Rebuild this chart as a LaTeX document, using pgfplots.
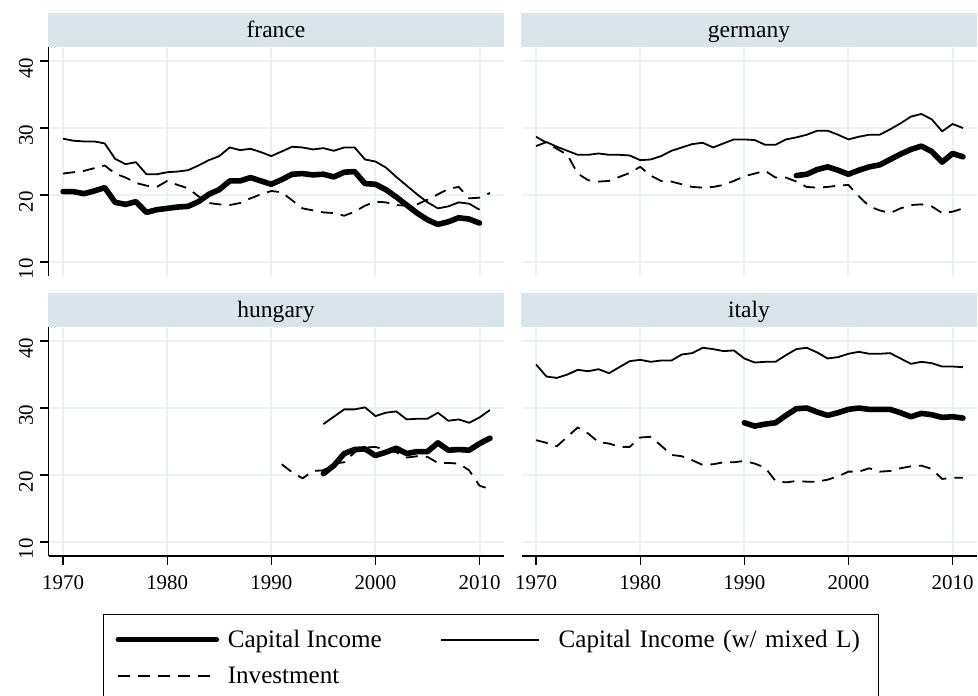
\documentclass[border=0pt]{standalone}
\usepackage{fontspec}
\setmainfont{Liberation Serif}
\usepackage{pgfplots}
\usepackage{pgfplotstable}
\pgfplotsset{compat=1.18}
\definecolor{gridc}{RGB}{234,242,243}
\definecolor{stripc}{RGB}{217,229,235}

\pgfplotstableread{
year ci cim inv
1970 20.5 28.4 23.2
1971 20.5 28.1 23.4
1972 20.2 28.0 23.6
1973 20.6 28.0 24.0
1974 21.1 27.7 24.4
1975 18.9 25.4 23.2
1976 18.6 24.6 22.6
1977 19.0 24.9 21.8
1978 17.4 23.1 21.4
1979 17.8 23.1 21.2
1980 18.0 23.4 22.1
1981 18.2 23.5 21.5
1982 18.3 23.7 21.0
1983 19.0 24.4 19.8
1984 20.1 25.2 18.8
1985 20.8 25.8 18.6
1986 22.1 27.1 18.5
1987 22.1 26.7 18.8
1988 22.6 26.9 19.5
1989 22.1 26.4 20.1
1990 21.6 25.8 20.6
1991 22.3 26.5 20.4
1992 23.1 27.2 19.2
1993 23.2 27.1 18.0
1994 23.0 26.8 17.7
1995 23.1 27.0 17.4
1996 22.7 26.6 17.3
1997 23.4 27.1 16.9
1998 23.5 27.1 17.5
1999 21.7 25.3 18.4
2000 21.6 25.0 19.0
2001 20.8 24.1 18.9
2002 19.7 22.7 18.5
2003 18.5 21.4 18.4
2004 17.3 20.1 18.6
2005 16.3 18.9 19.3
2006 15.6 18.0 20.1
2007 16.0 18.3 20.9
2008 16.6 18.9 21.2
2009 16.4 18.7 19.5
2010 15.8 17.8 19.6
2011 nan nan 20.3
}\france

\pgfplotstableread{
year ci cim inv
1970 nan 27.3 28.7
1971 nan 27.9 27.8
1972 nan 27.2 26.9
1973 nan 26.6 26.0
1974 nan 26.0 23.2
1975 nan 26.0 22.2
1976 nan 26.2 22.0
1977 nan 26.0 22.1
1978 nan 26.0 22.7
1979 nan 25.9 23.3
1980 nan 25.2 24.2
1981 nan 25.3 22.9
1982 nan 25.8 22.1
1983 nan 26.6 22.0
1984 nan 27.1 21.6
1985 nan 27.6 21.2
1986 nan 27.8 21.1
1987 nan 27.1 21.2
1988 nan 27.7 21.5
1989 nan 28.3 22.1
1990 nan 28.3 22.8
1991 nan 28.2 23.2
1992 nan 27.5 23.6
1993 nan 27.5 22.6
1994 nan 28.3 22.6
1995 22.9 28.6 22.0
1996 23.1 29.0 21.2
1997 23.8 29.6 21.1
1998 24.2 29.6 21.2
1999 23.7 29.0 21.4
2000 23.1 28.3 21.5
2001 23.7 28.7 19.8
2002 24.2 29.0 18.3
2003 24.5 29.0 17.7
2004 25.3 29.8 17.3
2005 26.1 30.7 18.0
2006 26.8 31.7 18.5
2007 27.3 32.1 18.6
2008 26.5 31.3 18.3
2009 24.9 29.5 17.3
2010 26.2 30.6 17.5
2011 25.7 30.0 18.0
}\germany

\pgfplotstableread{
year ci cim inv
1991 nan nan 21.6
1992 nan nan 20.4
1993 nan nan 19.5
1994 nan nan 20.6
1995 20.2 27.6 20.7
1996 21.4 28.7 21.7
1997 23.2 29.8 21.9
1998 23.8 29.8 23.4
1999 23.9 30.1 24.1
2000 22.9 28.8 24.2
2001 23.4 29.3 23.7
2002 24.0 29.5 23.4
2003 23.2 28.3 22.6
2004 23.5 28.4 22.8
2005 23.5 28.4 22.7
2006 24.8 29.3 21.8
2007 23.7 28.1 21.8
2008 23.8 28.3 21.7
2009 23.7 27.8 20.7
2010 24.7 28.6 18.4
2011 25.5 29.7 17.9
}\hungary

\pgfplotstableread{
year ci cim inv
1970 nan 36.5 25.2
1971 nan 34.7 24.8
1972 nan 34.5 24.3
1973 nan 35.0 25.7
1974 nan 35.7 27.1
1975 nan 35.5 26.2
1976 nan 35.8 24.9
1977 nan 35.2 24.7
1978 nan 36.1 24.2
1979 nan 37.0 24.2
1980 nan 37.2 25.6
1981 nan 36.9 25.7
1982 nan 37.1 24.4
1983 nan 37.1 23.0
1984 nan 38.0 22.8
1985 nan 38.2 22.2
1986 nan 39.0 21.5
1987 nan 38.8 21.6
1988 nan 38.5 21.9
1989 nan 38.6 21.9
1990 27.8 37.4 22.1
1991 27.3 36.8 21.7
1992 27.6 36.9 21.1
1993 27.8 36.9 19.1
1994 28.9 37.9 18.9
1995 29.9 38.8 19.1
1996 30.0 39.0 19.0
1997 29.4 38.3 19.0
1998 28.9 37.4 19.3
1999 29.3 37.6 19.8
2000 29.8 38.1 20.5
2001 30.0 38.4 20.5
2002 29.8 38.1 21.0
2003 29.8 38.1 20.5
2004 29.8 38.2 20.6
2005 29.3 37.4 21.0
2006 28.7 36.6 21.3
2007 29.2 36.9 21.4
2008 29.0 36.7 20.9
2009 28.6 36.2 19.4
2010 28.7 36.2 19.6
2011 28.5 36.1 19.6
}\italy

\pgfplotsset{
  panel/.style={
    scale only axis, width=227.5bp, height=114.5bp,
    anchor=north west,
    xmin=1968.6, xmax=2012.3, ymin=7.9, ymax=42.1,
    xtick={1970,1980,1990,2000,2010}, ytick={10,20,30,40},
    axis lines*=left, axis line style={-, line width=0.6bp, black},
    tick align=outside, major tick length=4.25bp,
    tick style={line width=0.6bp, black},
    grid=major, major grid style={gridc, line width=1bp},
    /pgf/number format/1000 sep={},
    /pgf/number format/assume math mode=true,
    tick label style={font=\fontsize{10.5}{12}\selectfont},
    yticklabel style={rotate=90, anchor=south, xshift=-3.5bp},
    xticklabel style={yshift=-2bp},
    every axis title shift=0pt,
    title style={at={(0.5,1)}, anchor=south, fill=stripc, minimum width=227.75bp,
      minimum height=16.75bp, inner sep=0pt, text height=10bp, text depth=2bp,
      font=\fontsize{11.8}{13}\selectfont},
    unbounded coords=jump,
    legend image code/.code={\draw[##1] (0bp,0bp) -- (49bp,0bp);},
  },
  topx/.style={xticklabels={}, x axis line style={draw=none}, xtick style={draw=none}},
  righty/.style={yticklabels={}, y axis line style={draw=none}, ytick style={draw=none}},
  ci/.style={black, line width=2.8bp, line join=round, line cap=round},
  cim/.style={black, line width=0.9bp, line join=round},
  inv/.style={black, line width=0.9bp, dash pattern=on 6bp off 4bp, line join=round},
}

\begin{document}
\begin{tikzpicture}
\begin{axis}[panel, topx, at={(24.25bp,-23.5bp)}, title={france}]
\addplot[ci] table[x=year,y=ci] {\france};
\addplot[cim] table[x=year,y=cim] {\france};
\addplot[inv] table[x=year,y=inv] {\france};
\end{axis}
\begin{axis}[panel, topx, righty, at={(260.75bp,-23.5bp)}, title={germany}]
\addplot[ci] table[x=year,y=ci] {\germany};
\addplot[cim] table[x=year,y=cim] {\germany};
\addplot[inv] table[x=year,y=inv] {\germany};
\end{axis}
\begin{axis}[panel, at={(24.25bp,-163.5bp)}, title={hungary},
  legend columns=2, legend cell align=left,
  legend style={at={(0.1204,-0.2533)}, anchor=north west, draw=black, line width=0.6bp,
    inner xsep=5.85bp, inner ysep=3.5bp, font=\fontsize{12.6}{14}\selectfont,
    nodes={inner xsep=2bp, inner ysep=3bp, text height=10bp, text depth=2bp},
    /tikz/column 1/.style={column sep=2.3bp},
    /tikz/column 2/.style={column sep=27bp},
    /tikz/column 3/.style={column sep=7.5bp},
    /tikz/column 4/.style={nodes={text width=152bp, align=left}},
    row sep=0pt}]
\addplot[ci] table[x=year,y=ci] {\hungary};
\addlegendentry{Capital Income}
\addplot[cim] table[x=year,y=cim] {\hungary};
\addlegendentry{Capital Income (w/ mixed L)}
\addplot[inv] table[x=year,y=inv] {\hungary};
\addlegendentry{Investment}
\end{axis}
\begin{axis}[panel, righty, at={(260.75bp,-163.5bp)}, title={italy}]
\addplot[ci] table[x=year,y=ci] {\italy};
\addplot[cim] table[x=year,y=cim] {\italy};
\addplot[inv] table[x=year,y=inv] {\italy};
\end{axis}
\pgfresetboundingbox
\useasboundingbox (0,0) rectangle (489bp,-348bp);
\end{tikzpicture}
\end{document}
